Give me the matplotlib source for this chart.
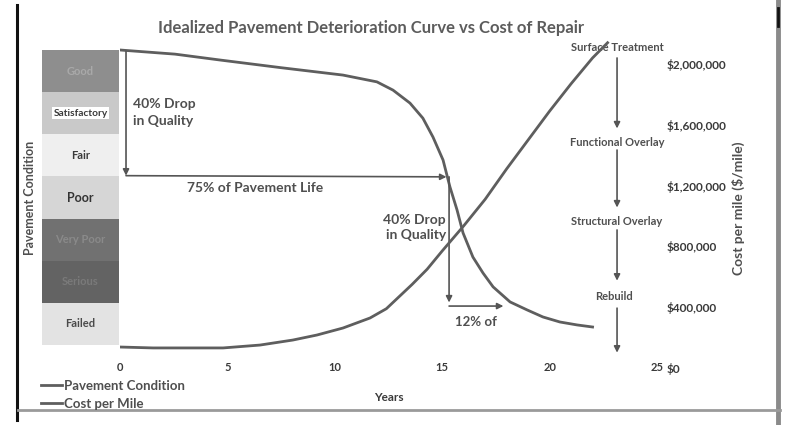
import matplotlib
matplotlib.use("Agg")
import matplotlib.pyplot as plt
from matplotlib.lines import Line2D

# ---- data ----
years_condition = [0, 2.56, 4.66, 7.5, 10.38, 11.96, 12.71, 13.5, 14.1, 14.57, 15.04, 15.36,
                   15.69, 15.97, 16.43, 16.9, 17.37, 18.16, 18.95, 19.69, 20.48, 21.28, 22.0]
pavement_condition = [100, 98.6, 96.6, 94.0, 91.5, 89.2, 86.4, 82.0, 76.9, 70.5, 62.7, 53.6,
                      45.8, 38.0, 29.8, 24.4, 19.7, 14.6, 11.9, 9.5, 7.8, 6.8, 6.1]

years_cost = [0, 1.54, 4.8, 6.52, 8.05, 9.17, 10.38, 11.64, 12.4, 13.0, 13.6, 14.3, 15.0, 16.0,
              17.0, 18.0, 19.0, 20.0, 21.0, 22.0, 22.7]
cost_per_mile = [138000, 132000, 132000, 151000, 184000, 217000, 263000, 329000, 390000, 470000,
                 550000, 650000, 770000, 935000, 1110000, 1310000, 1500000, 1690000, 1870000,
                 2040000, 2140000]

condition_labels = ["Good", "Satisfactory", "Fair", "Poor", "Very Poor", "Serious", "Failed"]
x_ticks = [0, 5, 10, 15, 20, 25]
cost_ticks = [0, 400000, 800000, 1200000, 1600000, 2000000]
cost_tick_labels = ["$0", "$400,000", "$800,000", "$1,200,000", "$1,600,000", "$2,000,000"]
treatments = ["Surface Treatment", "Functional Overlay", "Structural Overlay", "Rebuild"]

# ---- style ----
W, H = 785, 425
FONT = "Lato"
TXT = "#4f4f4f"
LINE = "#5e5e5e"
box_colors = ["#8e8e8e", "#c9c9c9", "#efefef", "#d6d6d6", "#717171", "#636363", "#e3e3e3"]
box_text_colors = ["#a9a9a9", "#3a3a3a", "#3a3a3a", "#333333", "#8a8a8a", "#7a7a7a", "#4a4a4a"]
box_font_sizes = [8, 7.3, 8, 9, 8, 8, 8]

plt.rcParams["font.family"] = [FONT, "DejaVu Sans"]

fig = plt.figure(figsize=(W / 100, H / 100), dpi=100)


def fx(px):
    return px / W


def fy(py):
    return 1 - py / H


# main axes (pavement condition)
ax = fig.add_axes([fx(120), fy(356), fx(657 - 120), (356 - 40) / H])
ax.set_xlim(0, 25)
ax.set_ylim((345 - 356) / 2.95, (345 - 40) / 2.95)
ax.plot(years_condition, pavement_condition, color=LINE, lw=2.0, solid_joinstyle="round")
for s in ax.spines.values():
    s.set_visible(False)
ax.set_yticks([])
ax.set_xticks(x_ticks)
ax.set_xticklabels([str(t) for t in x_ticks], fontsize=8, fontweight="bold", color="#3a3a3a")
ax.tick_params(axis="x", length=0, pad=4)
ax.set_xlabel("Years", fontsize=8.5, fontweight="bold", color="#3a3a3a", labelpad=14)

# secondary axes (cost)
ax2 = fig.add_axes([fx(120), fy(370), fx(657 - 120), (370 - 40) / H])
ax2.patch.set_alpha(0)
ax2.set_xlim(0, 25)
ax2.set_ylim(-2 / 152 * 1e6, (368 - 40) / 152 * 1e6)
ax2.plot(years_cost, cost_per_mile, color=LINE, lw=2.0, solid_joinstyle="round")
for s in ax2.spines.values():
    s.set_visible(False)
ax2.set_xticks([])
ax2.yaxis.tick_right()
ax2.set_yticks(cost_ticks)
ax2.set_yticklabels(cost_tick_labels, fontsize=8.5, fontweight="bold", color="#3a3a3a")
ax2.tick_params(axis="y", length=0, pad=7)

# condition boxes
axb = fig.add_axes([fx(42), fy(345), fx(119 - 42), (345 - 50) / H])
idx = list(range(len(condition_labels)))
axb.barh(idx, [1] * len(idx), height=1.0, left=0, color=box_colors, edgecolor="none")
axb.set_ylim(len(idx) - 0.5, -0.5)
axb.set_xlim(0, 1)
axb.axis("off")
for i, lab in enumerate(condition_labels):
    kw = {}
    if lab == "Satisfactory":
        kw["bbox"] = dict(boxstyle="square,pad=0.15", fc="white", ec="none")
    axb.text(0.5, i, lab, ha="center", va="center", fontsize=box_font_sizes[i], fontweight="bold",
             color=box_text_colors[i], **kw)

fig.text(fx(30), fy(198), "Pavement Condition", rotation=90, ha="center", va="center",
         fontsize=9, fontweight="bold", color=TXT)
fig.text(fx(738), fy(208), "Cost per mile ($/mile)", rotation=90, ha="center", va="center",
         fontsize=10, fontweight="bold", color=TXT)

fig.text(fx(371), fy(28), "Idealized Pavement Deterioration Curve vs Cost of Repair",
         ha="center", va="center", fontsize=12, fontweight="bold", color="#5c5c5c")

# ---- annotations ----
ARW = dict(arrowstyle="-|>", color="#555555", lw=1.2, mutation_scale=9, shrinkA=0, shrinkB=0)


def arrow(x0, y0, x1, y1):
    ax.annotate("", xy=(x1, y1), xytext=(x0, y0), arrowprops=ARW, annotation_clip=False)


ann_kw = dict(fontsize=10, fontweight="bold", color=TXT)
arrow(0.28, 99.5, 0.28, 57.4)
ax.text(0.6, 78.8, "40% Drop\nin Quality", ha="left", va="center", linespacing=1.5, **ann_kw)
arrow(0.28, 57.4, 15.2, 57.0)
ax.text(6.3, 53.2, "75% of Pavement Life", ha="center", va="center", **ann_kw)
arrow(15.32, 57.0, 15.32, 14.4)
ax.text(15.18, 39.7, "40% Drop\nin Quality", ha="right", va="center", linespacing=1.3, **ann_kw)
arrow(15.32, 13.2, 17.85, 13.2)
ax.text(16.57, 7.8, "12% of", ha="center", va="center", fontsize=9.5, fontweight="bold", color=TXT)

# treatment cascade
tr_kw = dict(fontsize=8, fontweight="bold", color=TXT, ha="center", va="center")
tx = 23.14
ax.text(tx, 101.0, treatments[0], **tr_kw)
arrow(tx, 97.3, tx, 73.4)
ax.text(tx, 68.8, treatments[1], **tr_kw)
arrow(tx, 66.1, tx, 46.6)
ax.text(tx, 42.0, treatments[2], **tr_kw)
arrow(tx, 39.0, tx, 21.8)
ax.text(22.99, 16.3, treatments[3], **tr_kw)
arrow(tx, 12.5, tx, -2.6)

# legend
handles = [Line2D([], [], color=LINE, lw=2.0), Line2D([], [], color=LINE, lw=2.0)]
leg = fig.legend(handles, ["Pavement Condition", "Cost per Mile"], loc="upper left",
                 bbox_to_anchor=(fx(34), fy(373)), frameon=False, handlelength=1.6,
                 handletextpad=0.2, labelspacing=0.45, borderpad=0,
                 prop=dict(family=FONT, weight="bold", size=9.5))
for t in leg.get_texts():
    t.set_color(TXT)

# scan border lines
fig.add_artist(Line2D([fx(17), fx(17)], [fy(5), fy(420)], color="#111111", lw=2.2))
fig.add_artist(Line2D([fx(778), fx(778)], [fy(0), fy(425)], color="#8a8a8a", lw=3.5))
fig.add_artist(Line2D([fx(778), fx(778)], [fy(8), fy(26)], color="#111111", lw=2.0))
fig.add_artist(Line2D([fx(18), fx(780)], [fy(410), fy(410)], color="#9a9a9a", lw=2.0))

fig.savefig("out.png", dpi=100, facecolor="white")
